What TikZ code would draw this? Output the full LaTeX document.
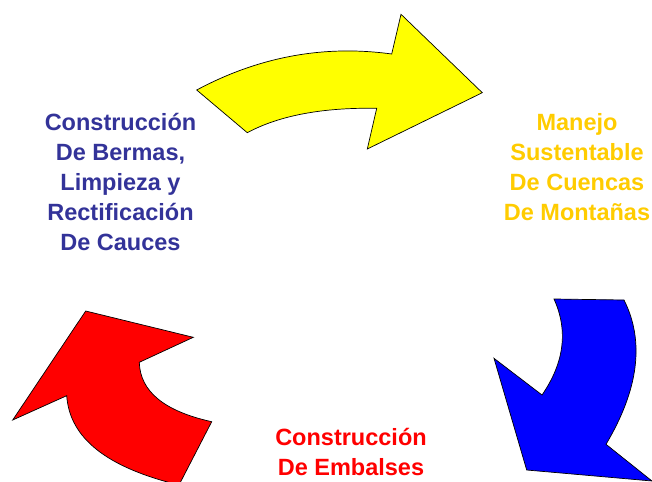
\documentclass[tikz,border=0pt]{standalone}
\usepackage{fontspec}
\setmainfont{Liberation Sans}
\definecolor{txtblue}{HTML}{333399}
\definecolor{txtyellow}{HTML}{FFCC00}
\definecolor{txtred}{HTML}{FF0000}
\definecolor{arrYellow}{HTML}{FFFF00}
\definecolor{arrBlue}{HTML}{0000FF}
\definecolor{arrRed}{HTML}{FF0000}
\tikzset{
  bigarrow/.style={draw=black, line width=0.7pt, line join=miter},
  label/.style={align=center, inner sep=0pt, font=\fontsize{23.5}{30}\selectfont\bfseries}
}
\begin{document}
\begin{tikzpicture}[x=1pt,y=-1pt]
\useasboundingbox (0,0) rectangle (652,481);
\fill[white] (0,0) rectangle (652,481);
% yellow arrow (top)
\filldraw[bigarrow, fill=arrYellow]
  (196.7,90) .. controls (258.9,56.7) and (323.9,44.7) .. (391.7,54)
  -- (401,14.3) -- (482.3,92.7) -- (367.3,149) -- (376.7,108.3)
  .. controls (322.2,107.4) and (279.1,115.6) .. (247.3,132.7) -- cycle;
% blue arrow (right)
\filldraw[bigarrow, fill=arrBlue]
  (554,299) -- (624,300)
  .. controls (644.7,341.3) and (638.7,389.3) .. (606,444.3)
  -- (652,481) -- (526.7,470) -- (494,358.3) -- (542,395)
  .. controls (564.3,362.6) and (568.3,330.6) .. (554,299) -- cycle;
% red arrow (left)
\filldraw[bigarrow, fill=arrRed]
  (85.7,311) -- (193.3,337.3) -- (139.3,362.3)
  .. controls (140.1,391.4) and (164.2,411.2) .. (211.7,421.7)
  -- (179,485)
  .. controls (107.1,467.5) and (69.7,438.4) .. (66.7,395.7)
  -- (12.7,420) -- cycle;
% texts
\node[label, text=txtblue] (left) at (120.5,182) {Construcción\\ De Bermas,\\Limpieza y\\Rectificación\\De Cauces};
\node[label, text=txtyellow] (right) at (577,167) {Manejo\\Sustentable\\De Cuencas\\De Montañas};
\node[label, text=txtred] (bottom) at (351,452) {Construcción\\De Embalses};
\end{tikzpicture}
\end{document}
